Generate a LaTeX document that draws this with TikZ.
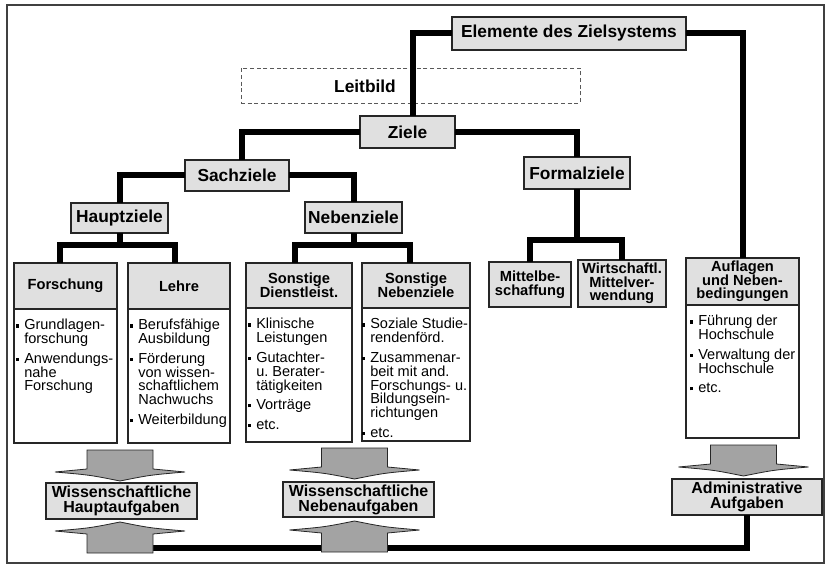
\documentclass[tikz,border=0pt]{standalone}
\usepackage{fontspec}
\setmainfont{Liberation Sans}
\setlength{\lineskiplimit}{-20pt}
\newlength{\px}
\setlength{\px}{0.75pt}
\definecolor{boxgray}{gray}{0.88}
\definecolor{arrowgray}{gray}{0.64}
% square bullet and the indent of the following lines
\newcommand{\bx}{\makebox[8\px][l]{\rule[1.7pt]{2.3pt}{2.3pt}}}
\newcommand{\ind}{\hspace*{8\px}}

\tikzset{
 wh/.style 2 args={minimum width=#1*0.75pt, minimum height=#2*0.75pt},
 conn/.style={line width=4.5pt},
 box/.style={draw=black!85, line width=0.8pt, inner sep=0pt, outer sep=0pt},
 ttl/.style={box, fill=boxgray, font=\fontsize{13}{14}\selectfont\bfseries},
 hdr/.style={box, fill=boxgray, align=center, font=\fontsize{11}{10.3}\selectfont\bfseries},
 task/.style={box, fill=boxgray, align=center, font=\fontsize{12}{11.3}\selectfont\bfseries},
 body/.style={anchor=north west, inner sep=0pt, align=left, font=\fontsize{10.9}{10.4}\selectfont},
 bigarrow/.pic={
   \filldraw[fill=arrowgray, draw=black!85, line width=0.6pt]
     (-33,0) -- (33,0) -- (33,19) -- (65,22)
     .. controls (30,25) .. (0,31)
     .. controls (-30,25) .. (-65,22)
     -- (-33,19) -- cycle;
 }
}

\begin{document}
\begin{tikzpicture}[x=0.75pt, y=-0.75pt]
 \useasboundingbox (0,0) rectangle (827,566);
 %frame
 \draw[black!75, line width=1pt] (7,5) rectangle (824,563);

 %upper levels
 \node[ttl, wh={234}{33}] (elem) at (569,33.5) {Elemente des Zielsystems};
 \node[box, draw=black!65, dash pattern=on 3pt off 2pt, line width=0.7pt, wh={339}{35}] (leitbox) at (410.5,85.5) {};
 \node[font=\fontsize{13}{14}\selectfont\bfseries] (leit) at (365,86) {Leitbild};
 \node[ttl, wh={95}{32}] (ziele) at (407.5,132) {Ziele};
 \node[ttl, wh={104}{31}] (sach) at (237,175.5) {Sachziele};
 \node[ttl, wh={106}{32}] (formal) at (577,173) {Formalziele};
 \node[ttl, wh={97}{30}] (haupt) at (119.5,218) {Hauptziele};
 \node[ttl, wh={97}{31}] (neben) at (353.5,217.5) {Nebenziele};

 %goal boxes
 \node[hdr, wh={103}{46}] (forsch) at (65.5,286) {Forschung};
 \node[hdr, wh={102}{46}] (lehre) at (179,286) {Lehre};
 \node[hdr, wh={106}{45}] (dienst) at (299,285.5) {Sonstige\\Dienstleist.};
 \node[hdr, wh={108}{45}] (sonst) at (416,285.5) {Sonstige\\Nebenziele};
 \node[hdr, wh={82}{45}] (mittel) at (530,284.5) {Mittelbe-\\schaffung};
 \node[hdr, wh={88}{47}] (wirt) at (622,283.5) {Wirtschaftl.\\Mittelver-\\wendung};
 \node[hdr, wh={113}{47}] (auf) at (742.5,281.5) {Auflagen\\und Neben-\\bedingungen};

 %lists below the headers
 \draw[box] (forsch.south west) rectangle ++(103,134);
 \draw[box] (lehre.south west) rectangle ++(102,134);
 \draw[box] (dienst.south west) rectangle ++(106,134);
 \draw[box] (sonst.south west) rectangle ++(108,133);
 \draw[box] (auf.south west) rectangle ++(113,133);
 \node[body] (forschT) at ([shift={(2,10)}]forsch.south west)
  {\bx Grundlagen-\\\ind forschung\\[4.3pt]
   \bx Anwendungs-\\\ind nahe\\\ind Forschung};
 \node[body] (lehreT) at ([shift={(2,10)}]lehre.south west)
  {\bx Berufsfähige\\\ind Ausbildung\\[4.3pt]
   \bx Förderung\\\ind von wissen-\\\ind schaftlichem\\\ind Nachwuchs\\[4.3pt]
   \bx Weiterbildung};
 \node[body] (dienstT) at ([shift={(2,10)}]dienst.south west)
  {\bx Klinische\\\ind Leistungen\\[4.3pt]
   \bx Gutachter-\\\ind u.\ Berater-\\\ind tätigkeiten\\[4.3pt]
   \bx Vorträge\\[4.3pt]
   \bx etc.};
 \node[body] (sonstT) at ([shift={(0,10)}]sonst.south west)
  {\bx Soziale Studie-\\\ind rendenförd.\\[4.3pt]
   \bx Zusammenar-\\\ind beit mit and.\\\ind Forschungs- u.\\\ind Bildungsein-\\\ind richtungen\\[4.3pt]
   \bx etc.};
 \node[body] (aufT) at ([shift={(4,10)}]auf.south west)
  {\bx Führung der\\\ind Hochschule\\[4.3pt]
   \bx Verwaltung der\\\ind Hochschule\\[4.3pt]
   \bx etc.};

 %tasks
 \node[task, wh={151}{36}] (hauptA) at (121.5,501) {Wissenschaftliche\\Hauptaufgaben};
 \node[task, wh={151}{35}] (nebenA) at (358.5,499.5) {Wissenschaftliche\\Nebenaufgaben};
 \node[task, wh={150}{36}] (adm) at (747,497) {Administrative\\Aufgaben};

 %tree lines
 \draw[conn] (elem.west) -| ([xshift=4pt]ziele.north);
 \draw[conn] (elem.east) -| (auf.north);
 \draw[conn] (ziele.west) -| ([xshift=3.75pt]sach.north);
 \draw[conn] (ziele.east) -| (formal.north);
 \draw[conn] (sach.west) -| (haupt.north);
 \draw[conn] (sach.east) -| (neben.north);
 \draw[conn] (haupt.south) -- ++(0,12) coordinate (hj);
 \draw[conn] ([xshift=-4.5pt]forsch.north) |- (hj) -| ([xshift=-3pt]lehre.north);
 \draw[conn] (neben.south) -- ++(0,12) coordinate (nj);
 \draw[conn] ([xshift=-3pt]dienst.north) |- (nj) -| ([xshift=-4.5pt]sonst.north);
 \draw[conn] (formal.south) -- ++(0,51) coordinate (fj);
 \draw[conn] (mittel.north) |- (fj) -| (wirt.north);

 %bottom line
 \coordinate (hb) at (120,548);
 \draw[conn] (hb) -| (adm.south);

 %big arrows
 \pic at (120,450) {bigarrow};
 \pic[yscale=-1] at (120,553) {bigarrow};
 \pic at (354.5,448) {bigarrow};
 \pic[yscale=-1] at (354.5,552) {bigarrow};
 \pic at (743.5,445) {bigarrow};
\end{tikzpicture}
\end{document}
